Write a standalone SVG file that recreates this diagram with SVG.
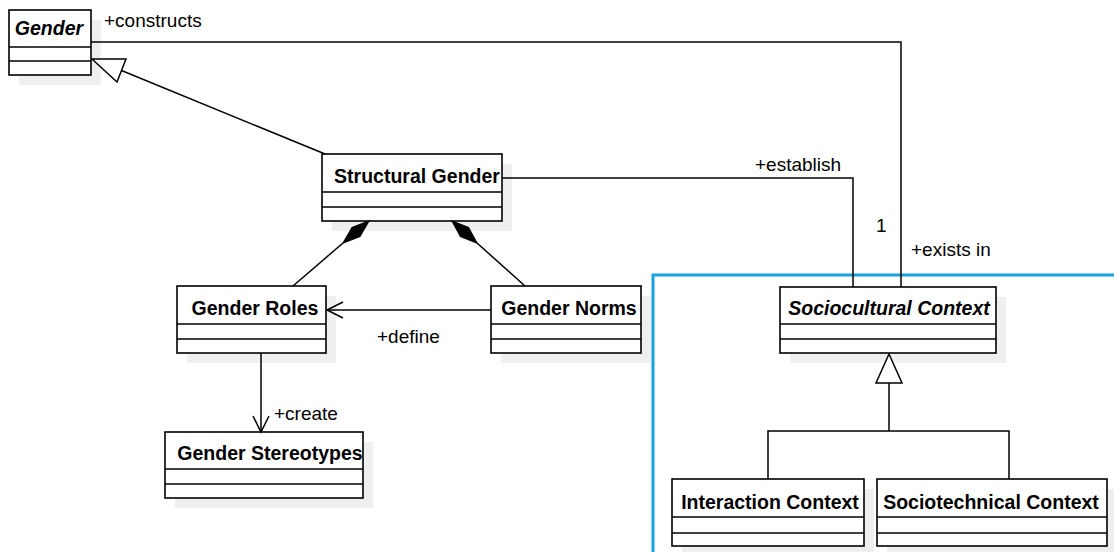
<svg xmlns="http://www.w3.org/2000/svg" width="1114" height="552" viewBox="0 0 1114 552">
  <style>
    .shadow { fill: #efefef; stroke: none; }
    .box { fill: #ffffff; stroke: #000000; stroke-width: 1.6; }
    .sep { stroke: #000000; stroke-width: 1.6; }
    .name { font-family: "Liberation Sans", Arial, sans-serif; font-size: 19.5px; font-weight: bold; fill: #000000; text-anchor: middle; }
    .abstract { font-style: italic; }
    .label { font-family: "Liberation Sans", Arial, sans-serif; font-size: 19px; fill: #000000; }
    .line { fill: none; stroke: #000000; stroke-width: 1.5; }
    .hollow { fill: #ffffff; stroke: #000000; stroke-width: 1.5; }
    .filled { fill: #000000; stroke: #000000; stroke-width: 1.2; }
  </style>

  <rect width="1114" height="552" fill="#ffffff"/>

  <!-- context frame -->
  <rect id="context-frame" x="653" y="275" width="520" height="320" fill="none" stroke="#1ba1e2" stroke-width="3"/>

  <!-- classes -->
  <g id="gender">
    <rect class="shadow" x="19" y="20" width="82" height="65"/>
    <rect class="box" x="9" y="10" width="82" height="65"/>
    <line class="sep" x1="9" y1="47" x2="91" y2="47"/>
    <line class="sep" x1="9" y1="61" x2="91" y2="61"/>
    <text class="name abstract" x="49" y="35">Gender</text>
  </g>

  <g id="structural-gender">
    <rect class="shadow" x="332" y="164" width="180" height="67"/>
    <rect class="box" x="322" y="154" width="180" height="67"/>
    <line class="sep" x1="322" y1="192" x2="502" y2="192"/>
    <line class="sep" x1="322" y1="207" x2="502" y2="207"/>
    <text class="name" x="417" y="183">Structural Gender</text>
  </g>

  <g id="gender-roles">
    <rect class="shadow" x="187" y="296" width="149" height="67"/>
    <rect class="box" x="177" y="286" width="149" height="67"/>
    <line class="sep" x1="177" y1="324" x2="326" y2="324"/>
    <line class="sep" x1="177" y1="339" x2="326" y2="339"/>
    <text class="name" x="255" y="315">Gender Roles</text>
  </g>

  <g id="gender-norms">
    <rect class="shadow" x="501" y="296" width="150" height="67"/>
    <rect class="box" x="491" y="286" width="150" height="67"/>
    <line class="sep" x1="491" y1="324" x2="641" y2="324"/>
    <line class="sep" x1="491" y1="339" x2="641" y2="339"/>
    <text class="name" x="569" y="315">Gender Norms</text>
  </g>

  <g id="gender-stereotypes">
    <rect class="shadow" x="175" y="442" width="198" height="66"/>
    <rect class="box" x="165" y="432" width="198" height="66"/>
    <line class="sep" x1="165" y1="469" x2="363" y2="469"/>
    <line class="sep" x1="165" y1="484" x2="363" y2="484"/>
    <text class="name" x="270" y="460">Gender Stereotypes</text>
  </g>

  <g id="sociocultural-context">
    <rect class="shadow" x="790" y="297" width="216" height="66"/>
    <rect class="box" x="780" y="287" width="216" height="66"/>
    <line class="sep" x1="780" y1="324" x2="996" y2="324"/>
    <line class="sep" x1="780" y1="339" x2="996" y2="339"/>
    <text class="name abstract" x="889" y="315">Sociocultural Context</text>
  </g>

  <g id="interaction-context">
    <rect class="shadow" x="682" y="489" width="192" height="67"/>
    <rect class="box" x="672" y="479" width="192" height="67"/>
    <line class="sep" x1="672" y1="517" x2="864" y2="517"/>
    <line class="sep" x1="672" y1="533" x2="864" y2="533"/>
    <text class="name" x="770" y="509">Interaction Context</text>
  </g>

  <g id="sociotechnical-context">
    <rect class="shadow" x="887" y="489" width="230" height="67"/>
    <rect class="box" x="877" y="479" width="230" height="67"/>
    <line class="sep" x1="877" y1="517" x2="1107" y2="517"/>
    <line class="sep" x1="877" y1="533" x2="1107" y2="533"/>
    <text class="name" x="991" y="509">Sociotechnical Context</text>
  </g>

  <!-- connectors -->
  <g id="connectors">
    <!-- Gender constructs / exists in -->
    <polyline class="line" points="91,42 901,42 901,287"/>
    <!-- Structural Gender establish -->
    <polyline class="line" points="502,178 853,178 853,287"/>
    <!-- Structural Gender generalizes Gender -->
    <line class="line" x1="121.5" y1="70.5" x2="325" y2="154"/>
    <polygon class="hollow" points="92,59 126,59 117,82"/>
    <!-- composition: Gender Roles -->
    <line class="line" x1="343" y1="243" x2="293" y2="286"/>
    <polygon class="filled" points="369,221 359.9,236.6 343,243 352.1,227.4"/>
    <!-- composition: Gender Norms -->
    <line class="line" x1="477" y1="243" x2="525" y2="286"/>
    <polygon class="filled" points="452,221 468.5,227.5 477,243 460.5,236.5"/>
    <!-- define -->
    <line class="line" x1="491" y1="310" x2="328" y2="310"/>
    <polyline class="line" points="343,302 327,310 343,318"/>
    <!-- create -->
    <line class="line" x1="261" y1="353" x2="261" y2="431"/>
    <polyline class="line" points="253,416 261,432 269,416"/>
    <!-- context specialization -->
    <polyline class="line" points="889,383 889,431"/>
    <polyline class="line" points="768,479 768,431 1009,431 1009,479"/>
    <polygon class="hollow" points="889,354 902,383 876,383"/>
  </g>

  <!-- labels -->
  <g id="labels">
    <text class="label" x="104" y="27">+constructs</text>
    <text class="label" x="755" y="171">+establish</text>
    <text class="label" x="876" y="232">1</text>
    <text class="label" x="911" y="256">+exists in</text>
    <text class="label" x="377" y="343">+define</text>
    <text class="label" x="274" y="420">+create</text>
  </g>
</svg>
